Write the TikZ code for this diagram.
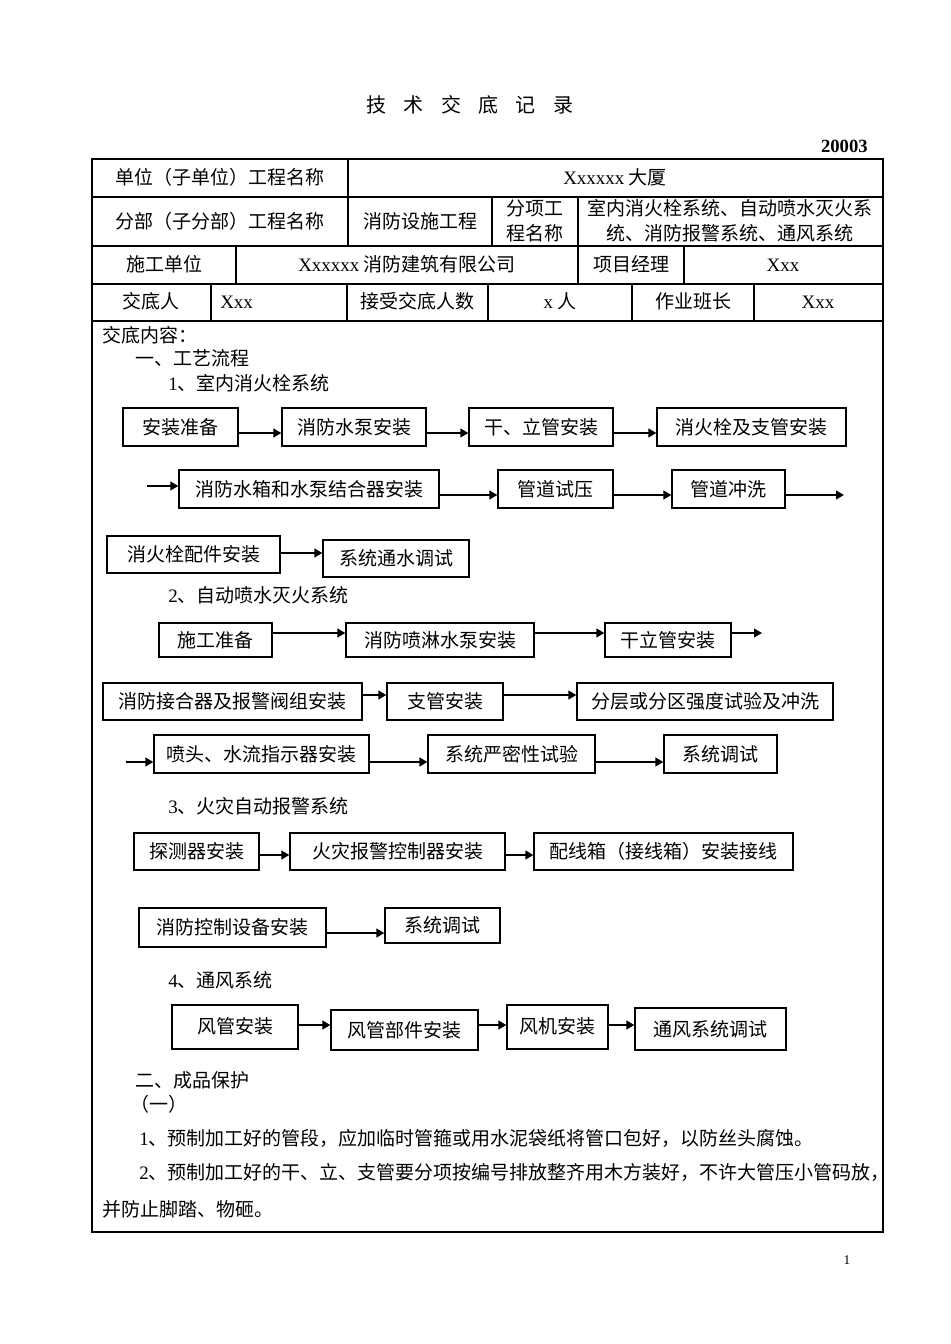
\documentclass[tikz,border=0pt]{standalone}
\usepackage{fontspec}
\usepackage{graphicx}
\setmainfont{Liberation Serif}
\newfontfamily\cjk{Noto Sans CJK SC}
\newfontfamily\lat{Liberation Serif}
\usetikzlibrary{arrows.meta}
\newcommand\fs{\fontsize{14.25pt}{18.75pt}\selectfont}
\newcommand\bx[7][]{\node[box,#1,minimum width={(#5-#3)*0.75pt},minimum height={(#6-#4)*0.75pt}] (#2) at ({(#3+#5)/2},{(#4+#6)/2}) {#7};}
\tikzset{
  grid/.style={line width=0.8pt},
  txt/.style={font=\cjk\fs, inner sep=0pt},
  box/.style={draw, line width=0.9pt, font=\cjk\fs, inner sep=0pt},
  boldbox/.style={line width=1.6pt},
  arr/.style={line width=1.6pt, -{Triangle[length=6pt,width=6.5pt]}},
}
\begin{document}
\begin{tikzpicture}[x=0.75pt,y=-0.75pt]
\useasboundingbox[fill=white] (0,0) rectangle (950,1344);

% title
\node[font=\cjk\fontsize{15pt}{18pt}\selectfont, inner sep=0pt] (title) at (470,105)
  {技\hspace{13pt}术\hspace{13pt}交\hspace{13pt}底\hspace{13pt}记\hspace{13pt}录};
\node[font=\lat\bfseries\fontsize{14pt}{16pt}\selectfont, inner sep=0pt, anchor=east] (code) at (868,146) {20003};

% table grid
\draw[grid] (92,159) rectangle (883,1232);
\draw[grid] (92,197) -- (883,197) (92,246) -- (883,246) (92,284) -- (883,284) (92,321) -- (883,321);
\draw[grid] (348,159) -- (348,246) (492,197) -- (492,246) (578,197) -- (578,284)
  (236,246) -- (236,284) (684,246) -- (684,284)
  (211,284) -- (211,321) (347,284) -- (347,321) (488,284) -- (488,321) (632,284) -- (632,321) (754,284) -- (754,321);

% table texts
\node[txt] (t11) at (220,177) {单位（子单位）工程名称};
\node[txt] (t12) at (615,177) {{\lat Xxxxxx} 大厦};
\node[txt] (t21) at (220,221) {分部（子分部）工程名称};
\node[txt] (t22) at (420,221) {消防设施工程};
\node[txt, align=center] (t23) at (535,221) {分项工\\程名称};
\node[txt, align=center] (t24) at (730,221) {室内消火栓系统、自动喷水灭火系\\统、消防报警系统、通风系统};
\node[txt] (t31) at (164,264) {施工单位};
\node[txt] (t32) at (407,264) {{\lat Xxxxxx} 消防建筑有限公司};
\node[txt] (t33) at (631,264) {项目经理};
\node[font=\lat\fs, inner sep=0pt] (t34) at (783,265) {Xxx};
\node[txt] (t41) at (151,301) {交底人};
\node[font=\lat\fs, inner sep=0pt, anchor=west] (t42) at (220,302) {Xxx};
\node[txt] (t43) at (417,301) {接受交底人数};
\node[txt] (t44) at (560,301) {{\lat x} 人};
\node[txt] (t45) at (693,301) {作业班长};
\node[font=\lat\fs, inner sep=0pt] (t46) at (818,302) {Xxx};

% headings
\node[txt, anchor=west] (h0) at (102,335) {交底内容：};
\node[txt, anchor=west] (h1) at (135,358) {一、工艺流程};
\node[txt, anchor=west] (s1) at (168,383) {{\lat 1}、室内消火栓系统};
\node[txt, anchor=west] (s2) at (168,595) {{\lat 2}、自动喷水灭火系统};
\node[txt, anchor=west] (s3) at (168,806) {{\lat 3}、火灾自动报警系统};
\node[txt, anchor=west] (s4) at (168,980) {{\lat 4}、通风系统};

% section 1
\bx[boldbox]{a1}{123}{408}{238}{446}{安装准备}
\bx{a2}{282}{408}{426}{446}{消防水泵安装}
\bx{a3}{469}{408}{613}{446}{干、立管安装}
\bx{a4}{657}{408}{846}{446}{消火栓及支管安装}
\draw[arr] (a1.east |- 0,433) -- (a2.west |- 0,433);
\draw[arr] (a2.east |- 0,433) -- (a3.west |- 0,433);
\draw[arr] (a3.east |- 0,433) -- (a4.west |- 0,433);

\coordinate (b0) at (147,486);
\bx{b1}{179}{470}{439}{508}{消防水箱和水泵结合器安装}
\bx{b2}{498}{470}{613}{508}{管道试压}
\bx{b3}{672}{470}{785}{508}{管道冲洗}
\coordinate (b4) at (844,495);
\draw[arr] (b0) -- (b1.west |- b0);
\draw[arr] (b1.east |- 0,495) -- (b2.west |- 0,495);
\draw[arr] (b2.east |- 0,495) -- (b3.west |- 0,495);
\draw[arr] (b3.east |- b4) -- (b4);

\bx[boldbox]{c1}{107}{536}{280}{573}{消火栓配件安装}
\bx{c2}{323}{540}{469}{577}{系统通水调试}
\draw[arr] (c1.east |- 0,553) -- (c2.west |- 0,553);

% section 2
\bx{d1}{159}{623}{272}{657}{施工准备}
\bx{d2}{346}{623}{534}{657}{消防喷淋水泵安装}
\bx{d3}{605}{623}{731}{657}{干立管安装}
\coordinate (d4) at (762,633);
\draw[arr] (d1.east |- 0,633) -- (d2.west |- 0,633);
\draw[arr] (d2.east |- 0,633) -- (d3.west |- 0,633);
\draw[arr] (d3.east |- d4) -- (d4);

\bx{e1}{103}{683}{362}{720}{消防接合器及报警阀组安装}
\bx{e2}{387}{683}{503}{720}{支管安装}
\bx{e3}{577}{683}{833}{720}{分层或分区强度试验及冲洗}
\draw[arr] (e1.east |- 0,695) -- (e2.west |- 0,695);
\draw[arr] (e2.east |- 0,695) -- (e3.west |- 0,695);

\coordinate (f0) at (126,762);
\bx{f1}{154}{735}{369}{773}{喷头、水流指示器安装}
\bx{f2}{428}{735}{595}{773}{系统严密性试验}
\bx{f3}{664}{735}{777}{773}{系统调试}
\draw[arr] (f0) -- (f1.west |- f0);
\draw[arr] (f1.east |- 0,762) -- (f2.west |- 0,762);
\draw[arr] (f2.east |- 0,762) -- (f3.west |- 0,762);

% section 3
\bx{g1}{134}{833}{259}{870}{探测器安装}
\bx{g2}{290}{833}{505}{870}{火灾报警控制器安装}
\bx{g3}{534}{833}{793}{870}{配线箱（接线箱）安装接线}
\draw[arr] (g1.east |- 0,855) -- (g2.west |- 0,855);
\draw[arr] (g2.east |- 0,855) -- (g3.west |- 0,855);

\bx{h1b}{139}{908}{326}{947}{消防控制设备安装}
\bx{h2b}{385}{908}{500}{943}{系统调试}
\draw[arr] (h1b.east |- 0,933) -- (h2b.west |- 0,933);

% section 4
\bx{i1}{172}{1005}{298}{1049}{\raisebox{3pt}{风管安装}}
\bx{i2}{331}{1010}{478}{1050}{风管部件安装}
\bx{i3}{507}{1005}{608}{1049}{\raisebox{3pt}{风机安装}}
\bx{i4}{635}{1008}{786}{1050}{通风系统调试}
\draw[arr] (i1.east |- 0,1025) -- (i2.west |- 0,1025);
\draw[arr] (i2.east |- 0,1025) -- (i3.west |- 0,1025);
\draw[arr] (i3.east |- 0,1025) -- (i4.west |- 0,1025);

% part two
\node[txt, anchor=west] (p0) at (135,1080) {二、成品保护};
\node[txt, anchor=west] (p1) at (130,1104) {（一）};
\node[txt, anchor=west] (p2) at (139,1138) {{\lat 1}、预制加工好的管段，应加临时管箍或用水泥袋纸将管口包好，以防丝头腐蚀。};
\node[txt, anchor=west] (p3) at (139,1172) {{\lat 2}、预制加工好的干、立、支管要分项按编号排放整齐用木方装好，不许大管压小管码放，};
\node[txt, anchor=west] (p4) at (102,1209) {并防止脚踏、物砸。};

\node[font=\lat\fontsize{10pt}{12pt}\selectfont, inner sep=0pt] (pg) at (847,1260) {1};
\end{tikzpicture}
\end{document}
